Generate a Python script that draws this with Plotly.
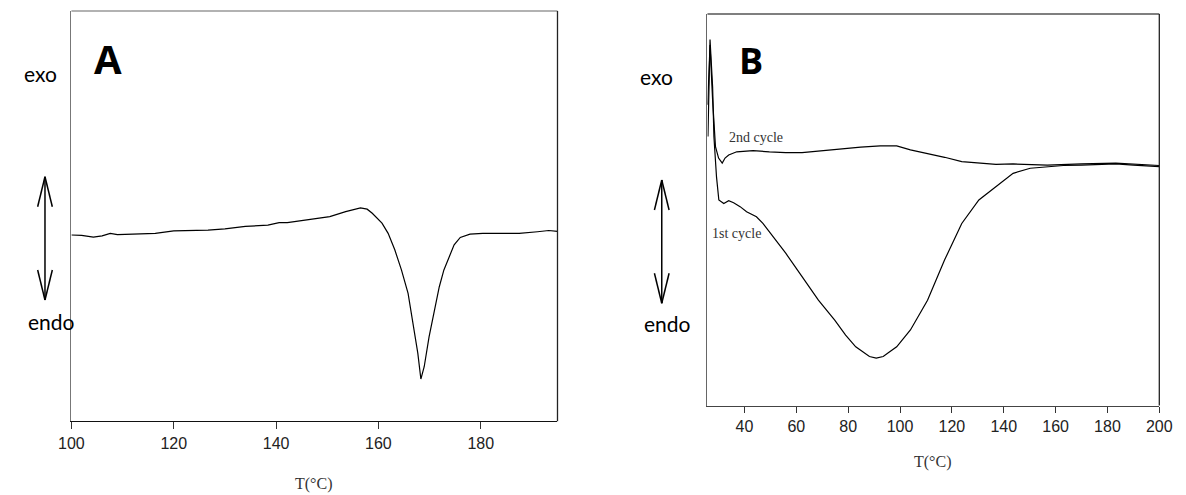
import plotly.graph_objects as go

# Panel A - DSC heating scan (arbitrary heat-flow units, exo up)
temp_a = [100, 102, 104.3, 106, 107.6, 109, 112, 116.4, 120, 123,
          126.7, 130, 131.8, 134, 138.4, 140.6, 142.2, 145, 148, 150.5,
          153.6, 155, 156.5, 157.8, 158.8, 160.7, 161.9, 163.2, 164.5, 165.8,
          166.7, 167.7, 168.3, 168.95, 169.9, 170.9, 171.9, 172.8, 173.8, 174.8,
          176, 177.9, 180.4, 183.8, 187.5, 191.1, 193.3, 195]
heat_a = [45.4, 45.3, 44.9, 45.2, 45.8, 45.5, 45.6, 45.8, 46.4, 46.5,
          46.6, 46.9, 47.1, 47.5, 47.8, 48.4, 48.4, 48.9, 49.4, 49.9,
          51.1, 51.6, 52.0, 51.7, 50.7, 48.3, 45.8, 41.8, 36.9, 31.2,
          24.7, 16.6, 10.3, 13.3, 20.6, 27.1, 32.8, 36.9, 40.1, 43.0,
          44.8, 45.6, 45.8, 45.8, 45.8, 46.2, 46.5, 46.3]

# Panel B - 1st and 2nd heating cycle
temp_b1 = [25.9, 26.7, 27.7, 28.2, 29.2, 30.1, 32.0, 33.9, 35.8, 38.3,
           40.8, 44.6, 47.1, 50.9, 55.9, 62.2, 68.5, 74.8, 79.0, 82.9,
           86.0, 88.2, 90.8, 93.5, 96.0, 98.7, 104.0, 110.6, 117.2, 123.8,
           130.4, 137.0, 143.6, 150.2, 156.8, 163.0, 170.0, 176.0, 183.2, 190.0,
           200.0]
heat_b1 = [68.7, 93.5, 81.4, 68.7, 58.4, 52.5, 51.6, 52.3, 51.8, 50.8,
           49.5, 48.2, 46.5, 43.1, 38.9, 32.9, 26.9, 21.8, 18.0, 15.0,
           13.4, 12.5, 12.1, 12.5, 13.7, 15.0, 19.3, 26.9, 37.2, 46.5,
           52.5, 55.9, 59.3, 60.6, 61.0, 61.3, 61.4, 61.6, 61.7, 61.4,
           61.0]
temp_b2 = [25.8, 26.7, 27.7, 28.8, 30.0, 31.4, 32.5, 33.9, 37.0, 43.3,
           49.6, 55.9, 62.2, 68.5, 74.8, 84.8, 92.4, 98.7, 104.0, 110.6,
           117.2, 123.8, 130.4, 137.0, 143.6, 156.8, 170.0, 183.2, 200.0]
heat_b2 = [76.8, 92.1, 78.0, 66.1, 63.2, 61.9, 63.2, 64.0, 64.8, 65.1,
           64.8, 64.6, 64.6, 65.0, 65.3, 66.0, 66.3, 66.3, 65.3, 64.4,
           63.4, 62.3, 61.9, 61.6, 61.7, 61.4, 61.7, 61.9, 61.3]

ticks_a = [100, 120, 140, 160, 180]
ticks_b = [40, 60, 80, 100, 120, 140, 160, 180, 200]

W, H = 1186, 495

# pixel -> paper helpers
def fx(x):
    return x / W

def fy(y):
    return 1 - y / H

line_style = dict(color='black', width=1.2)

fig = go.Figure()
fig.add_trace(go.Scatter(x=temp_a, y=heat_a, mode='lines', line=line_style,
                         xaxis='x', yaxis='y', showlegend=False))
fig.add_trace(go.Scatter(x=temp_b2, y=heat_b2, mode='lines', line=line_style,
                         xaxis='x2', yaxis='y2', showlegend=False))
fig.add_trace(go.Scatter(x=temp_b1, y=heat_b1, mode='lines', line=line_style,
                         xaxis='x2', yaxis='y2', showlegend=False))

tickfont = dict(family='Liberation Sans, Arial', size=16, color='#222')

xa = dict(showgrid=False, zeroline=False, showline=True, linewidth=1.3,
          ticks='outside', ticklen=7, tickwidth=1.2, tickcolor='#333',
          tickfont=tickfont, fixedrange=True)
ya = dict(showgrid=False, zeroline=False, showline=True, linewidth=1.3,
          showticklabels=False, ticks='', range=[0, 100], fixedrange=True)

shapes = []
# top / right frame edges
for ax, col in (('', '#999'), ('2', '#555')):
    shapes.append(dict(type='line', xref='x%s domain' % ax, yref='y%s domain' % ax,
                       x0=0, x1=1, y0=1, y1=1, line=dict(color=col, width=1.3)))
    shapes.append(dict(type='line', xref='x%s domain' % ax, yref='y%s domain' % ax,
                       x0=1, x1=1, y0=0, y1=1, line=dict(color='#222', width=1.3)))

# exo / endo double arrows with open heads
def double_arrow(x, top, bot, half=7.5, head=30):
    segs = [(x, top, x, bot),
            (x - half, top + head, x, top), (x + half, top + head, x, top),
            (x - half, bot - head, x, bot), (x + half, bot - head, x, bot)]
    return [dict(type='line', xref='paper', yref='paper',
                 x0=fx(a), y0=fy(b), x1=fx(c), y1=fy(d),
                 line=dict(color='black', width=1.5)) for a, b, c, d in segs]

shapes += double_arrow(32.7, 176.7, 300)
shapes += double_arrow(663.3, 180, 303.3)

side_font = dict(family='Lato, Open Sans', size=21, color='black')
panel_font = dict(family='Open Sans', size=40, color='black')
serif = dict(family='Liberation Serif, Times New Roman', size=16, color='#333')

def note(text, x, y, font, xanchor='center'):
    return dict(text=text, x=fx(x), y=fy(y), xref='paper', yref='paper',
                showarrow=False, font=font, xanchor=xanchor, yanchor='middle')

annotations = [
    note('exo', 28, 73, side_font),
    note('endo', 39, 321.7, side_font),
    note('<b>A</b>', 97, 59, panel_font),
    note('exo', 658, 76.7, side_font),
    note('endo', 669.5, 323.3, side_font),
    note('<b>B</b>', 755, 60, dict(panel_font, size=36)),
    note('2nd cycle', 730, 137.7, dict(serif, size=14), 'left'),
    note('1st cycle', 712.4, 233.3, dict(serif, size=14), 'left'),
    note('T(°C)', 308, 483.5, serif),
    note('T(°C)', 941, 461.7, serif),
]

fig.update_layout(
    width=W, height=H, autosize=False,
    margin=dict(l=0, r=0, t=0, b=0),
    paper_bgcolor='white', plot_bgcolor='white',
    xaxis=dict(xa, domain=[fx(59.7), fx(556.7)], range=[100, 195],
               tickvals=ticks_a, linecolor='#111', anchor='y'),
    yaxis=dict(ya, domain=[fy(421.3), fy(11)], linecolor='#777', anchor='x'),
    xaxis2=dict(xa, domain=[fx(710), fx(1172)], range=[25.7, 200],
                tickvals=ticks_b, linecolor='#444', ticklen=6.5, anchor='y2'),
    yaxis2=dict(ya, domain=[fy(405.5), fy(14)], linecolor='#666', anchor='x2'),
    shapes=shapes,
    annotations=annotations,
)

fig.write_html("out.html", config=dict(displayModeBar=False),
               post_script="document.body.style.margin='0';")
